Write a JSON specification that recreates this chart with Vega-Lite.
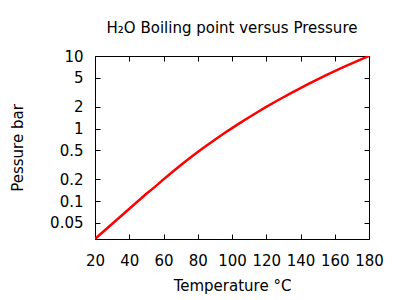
{
  "$schema": "https://vega.github.io/schema/vega-lite/v6.json",
  "autosize": "none",
  "width": 274,
  "height": 183,
  "padding": {"left": 95, "top": 56, "right": 31, "bottom": 61},
  "background": "white",
  "title": {"text": "H₂O Boiling point versus Pressure", "font": "DejaVu Sans", "fontSize": 15, "fontWeight": "normal", "color": "black", "offset": 13, "anchor": "middle"},
  "config": {
    "view": {"stroke": "black", "strokeWidth": 1},
    "axis": {"labelFont": "DejaVu Sans", "titleFont": "DejaVu Sans", "labelFontSize": 15, "titleFontSize": 15, "titleFontWeight": "normal", "labelColor": "black", "titleColor": "black", "domain": false, "grid": false, "tickColor": "black", "tickSize": -5, "tickWidth": 1, "labelOverlap": false, "labelBound": false, "labelFlush": false}
  },
  "data": {"values": [
    {"t": 20, "p": 0.03},
    {"t": 50, "p": 0.126},
    {"t": 55, "p": 0.157},
    {"t": 60, "p": 0.199},
    {"t": 65, "p": 0.25},
    {"t": 70, "p": 0.312},
    {"t": 75, "p": 0.386},
    {"t": 80, "p": 0.474},
    {"t": 85, "p": 0.578},
    {"t": 90, "p": 0.701},
    {"t": 95, "p": 0.845},
    {"t": 100, "p": 1.013},
    {"t": 105, "p": 1.208},
    {"t": 110, "p": 1.433},
    {"t": 115, "p": 1.691},
    {"t": 120, "p": 1.985},
    {"t": 125, "p": 2.321},
    {"t": 130, "p": 2.701},
    {"t": 135, "p": 3.13},
    {"t": 140, "p": 3.613},
    {"t": 145, "p": 4.154},
    {"t": 150, "p": 4.758},
    {"t": 155, "p": 5.431},
    {"t": 160, "p": 6.178},
    {"t": 165, "p": 7.005},
    {"t": 170, "p": 7.917},
    {"t": 175, "p": 8.92},
    {"t": 180, "p": 10.0}
  ]},
  "layer": [
    {
      "mark": {"type": "line", "color": "#ff0000", "strokeWidth": 2.5, "clip": true},
      "encoding": {
        "x": {"field": "t", "type": "quantitative", "scale": {"domain": [20, 180], "nice": false, "zero": false},
              "axis": {"orient": "bottom", "title": "Temperature °C", "values": [20, 40, 60, 80, 100, 120, 140, 160, 180], "labelPadding": 19, "titlePadding": 10}},
        "y": {"field": "p", "type": "quantitative", "scale": {"type": "log", "domain": [0.03, 10], "nice": false},
              "axis": {"orient": "left", "title": "Pessure bar", "values": [0.05, 0.1, 0.2, 0.5, 1, 2, 5, 10], "format": "~g", "labelPadding": 17, "titlePadding": 24}}
      }
    },
    {
      "mark": {"type": "line", "opacity": 0},
      "encoding": {
        "x": {"field": "t", "type": "quantitative", "scale": {"domain": [20, 180], "nice": false, "zero": false},
              "axis": {"orient": "top", "title": null, "labels": false, "values": [20, 40, 60, 80, 100, 120, 140, 160, 180]}},
        "y": {"field": "p", "type": "quantitative", "scale": {"type": "log", "domain": [0.03, 10], "nice": false},
              "axis": {"orient": "right", "title": null, "labels": false, "values": [0.05, 0.1, 0.2, 0.5, 1, 2, 5, 10]}}
      }
    }
  ],
  "resolve": {"axis": {"x": "independent", "y": "independent"}}
}
